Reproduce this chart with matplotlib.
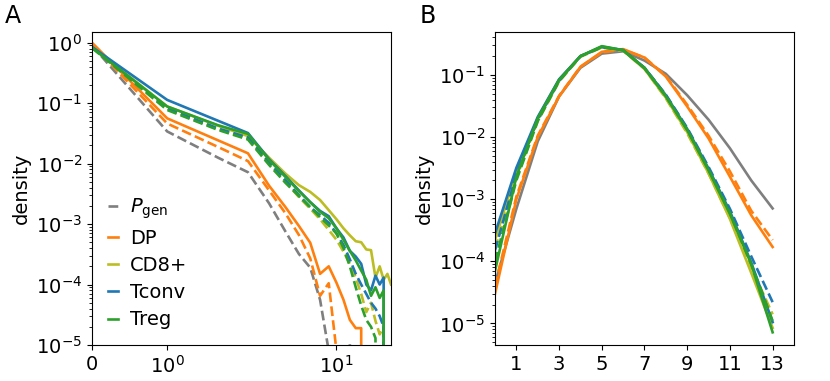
import numpy as np
import matplotlib.pyplot as plt
from matplotlib.ticker import NullLocator, FixedLocator

plt.rcParams['font.size'] = 14

# colours (tab10)
C_PGEN = '#7f7f7f'
C_DP = '#ff7f0e'
C_CD8 = '#bcbd22'
C_TCONV = '#1f77b4'
C_TREG = '#2ca02c'

# ---- panel A: x = 0..21 (symlog axis) ----
x_a = np.arange(22)
pgen_a = [0.90, 0.034, 0.0125, 0.0072, 2.2e-3, 7.5e-4, 3.2e-4, 1.9e-4, 5.6e-5, 8e-6, 0, 0,
          1.1e-5, 0, 0, 0, 0, 0, 0, 0, 0, 0]
dp_a = [1.0, 0.056, 0.0242, 0.0148, 4.3e-3, 1.9e-3, 9.3e-4, 4.9e-4, 1.5e-4, 2.0e-4, 1.07e-4, 5.6e-5,
        2.6e-5, 1.9e-5, 1.9e-5, 0, 0, 0, 0, 0, 0, 0]
dp_a_model = [0.95, 0.046, 0.0188, 0.011, 3.6e-3, 1.5e-3, 6.6e-4, 2.7e-4, 6.5e-5, 1.05e-4, 8e-6, 0,
              0, 0, 0, 0, 0, 0, 0, 0, 0, 0]
cd8_a = [0.85, 0.088, 0.0423, 0.0285, 0.0125, 6.8e-3, 4.4e-3, 3.4e-3, 2.5e-3, 1.7e-3, 1.2e-3, 8.5e-4,
         6.5e-4, 5.2e-4, 5.0e-4, 3.8e-4, 3.7e-4, 1.3e-4, 2.0e-4, 1.2e-4, 1.5e-4, 1.0e-4]
cd8_a_model = [0.85, 0.080, 0.037, 0.026, 0.0100, 5.0e-3, 2.8e-3, 1.8e-3, 1.2e-3, 8.0e-4, 5.5e-4, 3.5e-4,
               2.2e-4, 1.3e-4, 7e-5, 3.5e-5, 5e-5, 2.5e-5, 1.5e-5, 2e-5, 0, 0]
tconv_a = [0.85, 0.113, 0.051, 0.032, 0.0118, 6.2e-3, 3.6e-3, 2.3e-3, 1.65e-3, 1.35e-3, 8.5e-4, 6.0e-4,
           3.6e-4, 2.9e-4, 2.2e-4, 1.0e-4, 8e-5, 1.4e-4, 1.0e-4, 1.3e-4, 0, 0]
tconv_a_model = [0.85, 0.082, 0.038, 0.027, 0.0105, 5.3e-3, 3.0e-3, 1.9e-3, 1.4e-3, 1.05e-3, 7.0e-4, 4.5e-4,
                 2.6e-4, 1.5e-4, 1.0e-4, 7e-5, 5e-5, 4e-5, 3e-5, 2e-5, 0, 0]
treg_a = [0.82, 0.088, 0.043, 0.031, 0.0115, 6.0e-3, 3.5e-3, 2.3e-3, 1.6e-3, 1.25e-3, 8.5e-4, 5.5e-4,
          3.6e-4, 2.5e-4, 1.7e-4, 1.2e-4, 6.5e-5, 9e-5, 6e-5, 8e-5, 0, 0]
treg_a_model = [0.82, 0.077, 0.036, 0.025, 9.5e-3, 4.8e-3, 2.9e-3, 1.9e-3, 1.3e-3, 9.5e-4, 7.0e-4, 4.0e-4,
                2.0e-4, 9e-5, 4.5e-5, 2.6e-5, 2.0e-5, 1.3e-5, 0, 0, 0, 0]

# ---- panel B: x = 0..13 ----
x_b = np.arange(14)
pgen_b = [4.4e-5, 7e-4, 8.5e-3, 0.045, 0.13, 0.22, 0.24, 0.17, 0.104, 0.047, 0.019, 6.6e-3, 2.0e-3, 7.1e-4]
dp_b = [3e-5, 1.0e-3, 0.0100, 0.045, 0.135, 0.235, 0.26, 0.19, 0.094, 0.031, 9.5e-3, 2.3e-3, 5.5e-4, 1.7e-4]
dp_b_model = [4e-5, 1.1e-3, 0.0105, 0.046, 0.135, 0.23, 0.255, 0.19, 0.096, 0.033, 0.0105, 2.8e-3, 6.5e-4, 2.2e-4]
cd8_b = [2.2e-4, 2.8e-3, 0.020, 0.083, 0.20, 0.28, 0.245, 0.125, 0.043, 0.012, 2.6e-3, 4.8e-4, 6.5e-5, 8.5e-6]
cd8_b_model = [1.6e-4, 2.2e-3, 0.018, 0.078, 0.195, 0.275, 0.245, 0.125, 0.042, 0.0115, 2.6e-3, 5.0e-4, 8e-5, 1.4e-5]
tconv_b = [2.8e-4, 3.2e-3, 0.021, 0.085, 0.20, 0.285, 0.25, 0.13, 0.047, 0.0135, 3.1e-3, 6.4e-4, 9.5e-5, 1.05e-5]
tconv_b_model = [1.5e-4, 2.5e-3, 0.019, 0.080, 0.20, 0.28, 0.25, 0.13, 0.048, 0.0140, 3.3e-3, 7.0e-4, 1.2e-4, 2.2e-5]
treg_b = [7e-5, 2.3e-3, 0.020, 0.083, 0.20, 0.29, 0.25, 0.128, 0.045, 0.013, 2.9e-3, 5.8e-4, 9e-5, 7.2e-6]
treg_b_model = [1.0e-4, 2.0e-3, 0.018, 0.080, 0.20, 0.28, 0.25, 0.13, 0.046, 0.013, 3.0e-3, 6.0e-4, 9e-5, 1.1e-5]

LW = 1.9

fig = plt.figure(figsize=(8.3, 3.81), dpi=100)
ax1 = fig.add_axes([0.1108, 0.0945, 0.3603, 0.8215])
ax2 = fig.add_axes([0.5964, 0.0945, 0.3602, 0.8215])

# panel A
ax1.plot(x_a, pgen_a, '--', color=C_PGEN, lw=LW, label=r'$P_{\rm gen}$')
ax1.plot(x_a, dp_a, '-', color=C_DP, lw=LW, label='DP')
ax1.plot(x_a, dp_a_model, '--', color=C_DP, lw=LW)
ax1.plot(x_a, cd8_a, '-', color=C_CD8, lw=LW, label='CD8+')
ax1.plot(x_a, cd8_a_model, '--', color=C_CD8, lw=LW)
ax1.plot(x_a, tconv_a, '-', color=C_TCONV, lw=LW, label='Tconv')
ax1.plot(x_a, tconv_a_model, '--', color=C_TCONV, lw=LW)
ax1.plot(x_a, treg_a, '-', color=C_TREG, lw=LW, label='Treg')
ax1.plot(x_a, treg_a_model, '--', color=C_TREG, lw=LW)

ax1.set_xscale('symlog', linthresh=1, linscale=0.4)
ax1.set_yscale('log')
ax1.set_xlim(0, 21)
ax1.set_ylim(1e-5, 1.5)
ax1.xaxis.set_major_locator(FixedLocator([0, 1, 10]))
ax1.xaxis.set_minor_locator(NullLocator())
ax1.set_ylabel('density')
ax1.legend(loc='lower left', frameon=False, handlelength=0.55, handletextpad=0.6,
           labelspacing=0.42, borderaxespad=0.4)

# panel B
ax2.plot(x_b, pgen_b, '-', color=C_PGEN, lw=LW)
ax2.plot(x_b, dp_b, '-', color=C_DP, lw=LW)
ax2.plot(x_b, dp_b_model, '--', color=C_DP, lw=LW)
ax2.plot(x_b, cd8_b, '-', color=C_CD8, lw=LW)
ax2.plot(x_b, cd8_b_model, '--', color=C_CD8, lw=LW)
ax2.plot(x_b, tconv_b, '-', color=C_TCONV, lw=LW)
ax2.plot(x_b, tconv_b_model, '--', color=C_TCONV, lw=LW)
ax2.plot(x_b, treg_b, '-', color=C_TREG, lw=LW)
ax2.plot(x_b, treg_b_model, '--', color=C_TREG, lw=LW)

ax2.set_yscale('log')
ax2.set_xlim(0, 14)
ax2.set_ylim(4.5e-6, 0.49)
ax2.set_xticks([1, 3, 5, 7, 9, 11, 13])
ax2.set_ylabel('density')

fig.text(0.006, 0.99, 'A', fontsize=17, va='top')
fig.text(0.505, 0.99, 'B', fontsize=17, va='top')

fig.savefig('out.png', dpi=100)
